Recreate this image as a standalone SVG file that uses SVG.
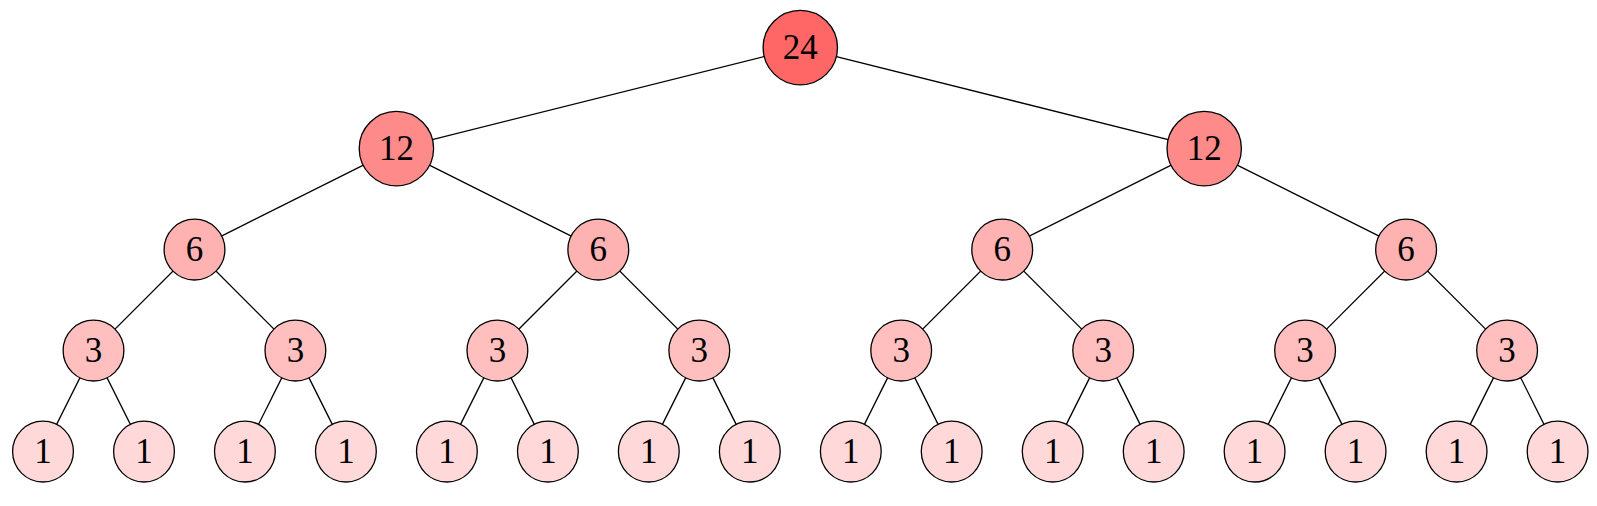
<svg xmlns="http://www.w3.org/2000/svg" width="1597" height="506" viewBox="0 0 1597 506">
<style>
.e line{stroke:#000;stroke-width:1.3}
circle{stroke:#000;stroke-width:1.3}
.l0 circle{fill:#FF6666}
.l1 circle{fill:#FF8A8A}
.l2 circle{fill:#FFB2B2}
.l3 circle{fill:#FFBFBF}
.l4 circle{fill:#FFD9D9}
text{font-family:"Liberation Serif","DejaVu Serif",serif;font-size:35px;text-anchor:middle;dominant-baseline:central;fill:#000}
</style>
<rect width="1597" height="506" fill="#fff"/>
<g id="connectors" class="e">
<line x1="800.3" y1="47.6" x2="396.4" y2="148.6"/>
<line x1="800.3" y1="47.6" x2="1204.2" y2="148.6"/>
<line x1="396.4" y1="148.6" x2="194.5" y2="249.6"/>
<line x1="396.4" y1="148.6" x2="598.3" y2="249.6"/>
<line x1="1204.2" y1="148.6" x2="1002.2" y2="249.6"/>
<line x1="1204.2" y1="148.6" x2="1406.1" y2="249.6"/>
<line x1="194.5" y1="249.6" x2="93.5" y2="350.6"/>
<line x1="194.5" y1="249.6" x2="295.4" y2="350.6"/>
<line x1="598.3" y1="249.6" x2="497.4" y2="350.6"/>
<line x1="598.3" y1="249.6" x2="699.3" y2="350.6"/>
<line x1="1002.2" y1="249.6" x2="901.2" y2="350.6"/>
<line x1="1002.2" y1="249.6" x2="1103.2" y2="350.6"/>
<line x1="1406.1" y1="249.6" x2="1305.1" y2="350.6"/>
<line x1="1406.1" y1="249.6" x2="1507.1" y2="350.6"/>
<line x1="93.5" y1="350.6" x2="43" y2="451.6"/>
<line x1="93.5" y1="350.6" x2="144" y2="451.6"/>
<line x1="295.4" y1="350.6" x2="244.9" y2="451.6"/>
<line x1="295.4" y1="350.6" x2="345.9" y2="451.6"/>
<line x1="497.4" y1="350.6" x2="446.9" y2="451.6"/>
<line x1="497.4" y1="350.6" x2="547.9" y2="451.6"/>
<line x1="699.3" y1="350.6" x2="648.8" y2="451.6"/>
<line x1="699.3" y1="350.6" x2="749.8" y2="451.6"/>
<line x1="901.2" y1="350.6" x2="850.8" y2="451.6"/>
<line x1="901.2" y1="350.6" x2="951.7" y2="451.6"/>
<line x1="1103.2" y1="350.6" x2="1052.7" y2="451.6"/>
<line x1="1103.2" y1="350.6" x2="1153.7" y2="451.6"/>
<line x1="1305.1" y1="350.6" x2="1254.6" y2="451.6"/>
<line x1="1305.1" y1="350.6" x2="1355.6" y2="451.6"/>
<line x1="1507.1" y1="350.6" x2="1456.6" y2="451.6"/>
<line x1="1507.1" y1="350.6" x2="1557.6" y2="451.6"/>
</g>
<g id="n0" class="l0"><circle cx="800.3" cy="47.6" r="37.2"/><text x="800.3" y="47.6">24</text></g>
<g id="n1" class="l1"><circle cx="396.4" cy="148.6" r="37.2"/><text x="396.4" y="148.6">12</text></g>
<g id="n2" class="l1"><circle cx="1204.2" cy="148.6" r="37.2"/><text x="1204.2" y="148.6">12</text></g>
<g id="n3" class="l2"><circle cx="194.5" cy="249.6" r="30.4"/><text x="194.5" y="249.6">6</text></g>
<g id="n4" class="l2"><circle cx="598.3" cy="249.6" r="30.4"/><text x="598.3" y="249.6">6</text></g>
<g id="n5" class="l2"><circle cx="1002.2" cy="249.6" r="30.4"/><text x="1002.2" y="249.6">6</text></g>
<g id="n6" class="l2"><circle cx="1406.1" cy="249.6" r="30.4"/><text x="1406.1" y="249.6">6</text></g>
<g id="n7" class="l3"><circle cx="93.5" cy="350.6" r="30.4"/><text x="93.5" y="350.6">3</text></g>
<g id="n8" class="l3"><circle cx="295.4" cy="350.6" r="30.4"/><text x="295.4" y="350.6">3</text></g>
<g id="n9" class="l3"><circle cx="497.4" cy="350.6" r="30.4"/><text x="497.4" y="350.6">3</text></g>
<g id="n10" class="l3"><circle cx="699.3" cy="350.6" r="30.4"/><text x="699.3" y="350.6">3</text></g>
<g id="n11" class="l3"><circle cx="901.2" cy="350.6" r="30.4"/><text x="901.2" y="350.6">3</text></g>
<g id="n12" class="l3"><circle cx="1103.2" cy="350.6" r="30.4"/><text x="1103.2" y="350.6">3</text></g>
<g id="n13" class="l3"><circle cx="1305.1" cy="350.6" r="30.4"/><text x="1305.1" y="350.6">3</text></g>
<g id="n14" class="l3"><circle cx="1507.1" cy="350.6" r="30.4"/><text x="1507.1" y="350.6">3</text></g>
<g id="n15" class="l4"><circle cx="43" cy="451.6" r="30.4"/><text x="43" y="451.6">1</text></g>
<g id="n16" class="l4"><circle cx="144" cy="451.6" r="30.4"/><text x="144" y="451.6">1</text></g>
<g id="n17" class="l4"><circle cx="244.9" cy="451.6" r="30.4"/><text x="244.9" y="451.6">1</text></g>
<g id="n18" class="l4"><circle cx="345.9" cy="451.6" r="30.4"/><text x="345.9" y="451.6">1</text></g>
<g id="n19" class="l4"><circle cx="446.9" cy="451.6" r="30.4"/><text x="446.9" y="451.6">1</text></g>
<g id="n20" class="l4"><circle cx="547.9" cy="451.6" r="30.4"/><text x="547.9" y="451.6">1</text></g>
<g id="n21" class="l4"><circle cx="648.8" cy="451.6" r="30.4"/><text x="648.8" y="451.6">1</text></g>
<g id="n22" class="l4"><circle cx="749.8" cy="451.6" r="30.4"/><text x="749.8" y="451.6">1</text></g>
<g id="n23" class="l4"><circle cx="850.8" cy="451.6" r="30.4"/><text x="850.8" y="451.6">1</text></g>
<g id="n24" class="l4"><circle cx="951.7" cy="451.6" r="30.4"/><text x="951.7" y="451.6">1</text></g>
<g id="n25" class="l4"><circle cx="1052.7" cy="451.6" r="30.4"/><text x="1052.7" y="451.6">1</text></g>
<g id="n26" class="l4"><circle cx="1153.7" cy="451.6" r="30.4"/><text x="1153.7" y="451.6">1</text></g>
<g id="n27" class="l4"><circle cx="1254.6" cy="451.6" r="30.4"/><text x="1254.6" y="451.6">1</text></g>
<g id="n28" class="l4"><circle cx="1355.6" cy="451.6" r="30.4"/><text x="1355.6" y="451.6">1</text></g>
<g id="n29" class="l4"><circle cx="1456.6" cy="451.6" r="30.4"/><text x="1456.6" y="451.6">1</text></g>
<g id="n30" class="l4"><circle cx="1557.6" cy="451.6" r="30.4"/><text x="1557.6" y="451.6">1</text></g>
</svg>
